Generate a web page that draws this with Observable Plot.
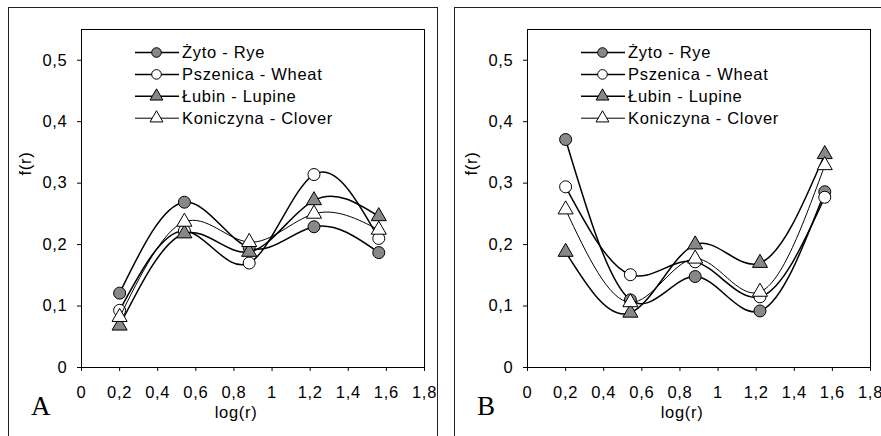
<!DOCTYPE html>
<html>
<head>
<meta charset="utf-8">
<script src="https://cdn.jsdelivr.net/npm/d3@7"></script>
<script src="https://cdn.jsdelivr.net/npm/@observablehq/plot@0.6"></script>
<style>
  html, body { margin: 0; padding: 0; background: #fff; overflow: hidden; }
  #root { position: relative; width: 881px; height: 436px; overflow: hidden; font-family: "Liberation Sans", Arial, sans-serif; }
  .panel { position: absolute; top: 0; width: 440px; height: 436px; }
  .frame { position: absolute; left: 8px; top: 7px; width: 430px; height: 450px; box-sizing: border-box; border: 1.5px solid #222; }
  .panel svg.plot { position: absolute; left: 0; top: 0; }
  .letter { position: absolute; left: 31px; top: 393px; font-family: "Liberation Serif", "Times New Roman", serif; font-size: 27px; line-height: 27px; }
  .legend { position: absolute; left: 0; top: 0; }
</style>
</head>
<body>
<div id="root"></div>
<script>
const xValues = [0.2, 0.54, 0.88, 1.22, 1.56];
const seriesNames = ["Żyto - Rye", "Pszenica - Wheat", "Łubin - Lupine", "Koniczyna - Clover"];
const panelLetters = ["A", "B"];

// Panel A
const ryeA    = [0.121, 0.269, 0.195, 0.229, 0.187];
const wheatA  = [0.093, 0.222, 0.170, 0.314, 0.210];
const lupineA = [0.068, 0.218, 0.188, 0.272, 0.246];
const cloverA = [0.082, 0.237, 0.204, 0.250, 0.224];

// Panel B
const ryeB    = [0.371, 0.110, 0.148, 0.092, 0.286];
const wheatB  = [0.294, 0.151, 0.172, 0.115, 0.277];
const lupineB = [0.188, 0.089, 0.200, 0.170, 0.347];
const cloverB = [0.257, 0.106, 0.177, 0.123, 0.329];

const xTicks = [0, 0.2, 0.4, 0.6, 0.8, 1, 1.2, 1.4, 1.6, 1.8];
const yTicks = [0, 0.1, 0.2, 0.3, 0.4, 0.5];

const GRAY = "#888";
const styles = [
  {symbol: "circle", fill: GRAY, r: 6, sw: 1.5},
  {symbol: "circle", fill: "white", r: 6, sw: 1.5},
  {symbol: "triangle", fill: GRAY, r: 5.6, sw: 1.5},
  {symbol: "triangle", fill: "white", r: 5.6, sw: 1}
];

const FONT = "'Liberation Sans', Arial, sans-serif";
const FS = 16.5;
const LS = "0.7px";
const fmt = d => String(d).replace(".", ",");

function makePanel(seriesList, letter, offsetX) {
  const root = document.getElementById("root");
  const panel = document.createElement("div");
  panel.className = "panel";
  panel.style.left = offsetX + "px";
  root.appendChild(panel);

  const frame = document.createElement("div");
  frame.className = "frame";
  panel.appendChild(frame);

  const marks = [Plot.frame({stroke: "black", strokeWidth: 1})];
  seriesList.forEach((vals, i) => {
    const data = xValues.map((x, j) => ({x, y: vals[j]}));
    const s = styles[i];
    marks.push(Plot.line(data, {x: "x", y: "y", curve: "natural", stroke: "black", strokeWidth: s.sw}));
    marks.push(Plot.dot(data, {x: "x", y: "y", symbol: () => s.symbol, r: s.r, fill: s.fill, stroke: "black", strokeWidth: 1}));
  });
  marks.push(Plot.axisX({ticks: xTicks, tickFormat: fmt, tickSize: 4, tickPadding: 15, label: null, fontSize: FS}));
  marks.push(Plot.axisY({ticks: yTicks, tickFormat: fmt, tickSize: 4, tickPadding: 10, label: null, fontSize: FS}));
  marks.push(Plot.text(["log(r)"], {frameAnchor: "bottom", dy: 50, dx: -17, fontSize: FS, textAnchor: "middle"}));
  marks.push(Plot.text(["f(r)"], {frameAnchor: "left", dx: -56, dy: -35, rotate: -90, fontSize: FS, textAnchor: "middle"}));

  const chart = Plot.plot({
    width: 440,
    height: 436,
    marginLeft: 81,
    marginRight: 16,
    marginTop: 29,
    marginBottom: 69,
    x: {domain: [0, 1.8]},
    y: {domain: [0, 0.55]},
    symbol: {type: "identity"},
    style: {fontFamily: FONT, fontSize: FS + "px", letterSpacing: LS, background: "transparent", color: "black"},
    marks
  });
  chart.classList.add("plot");
  panel.appendChild(chart);

  // Legend overlay
  const ns = "http://www.w3.org/2000/svg";
  const lg = document.createElementNS(ns, "svg");
  lg.setAttribute("class", "legend");
  lg.setAttribute("width", 440);
  lg.setAttribute("height", 140);
  seriesNames.forEach((name, i) => {
    const cy = 52.5 + i * 21.9;
    const s = styles[i];
    const ln = document.createElementNS(ns, "line");
    ln.setAttribute("x1", 135); ln.setAttribute("x2", 179);
    ln.setAttribute("y1", cy); ln.setAttribute("y2", cy);
    ln.setAttribute("stroke", "black"); ln.setAttribute("stroke-width", s.sw);
    lg.appendChild(ln);
    const sym = document.createElementNS(ns, "path");
    const symType = s.symbol === "circle" ? d3.symbolCircle : d3.symbolTriangle;
    sym.setAttribute("d", d3.symbol(symType, Math.PI * 4.8 * 4.8)());
    sym.setAttribute("transform", `translate(156.5,${cy})`);
    sym.setAttribute("fill", s.fill); sym.setAttribute("stroke", "black");
    lg.appendChild(sym);
    const t = document.createElementNS(ns, "text");
    t.setAttribute("x", 182); t.setAttribute("y", cy);
    t.setAttribute("dy", "0.36em");
    t.setAttribute("font-size", FS);
    t.setAttribute("letter-spacing", LS);
    t.setAttribute("font-family", FONT);
    t.textContent = name;
    lg.appendChild(t);
  });
  panel.appendChild(lg);

  const L = document.createElement("div");
  L.className = "letter";
  L.textContent = letter;
  panel.appendChild(L);
}

makePanel([ryeA, wheatA, lupineA, cloverA], panelLetters[0], 0);
makePanel([ryeB, wheatB, lupineB, cloverB], panelLetters[1], 446);
</script>
</body>
</html>
